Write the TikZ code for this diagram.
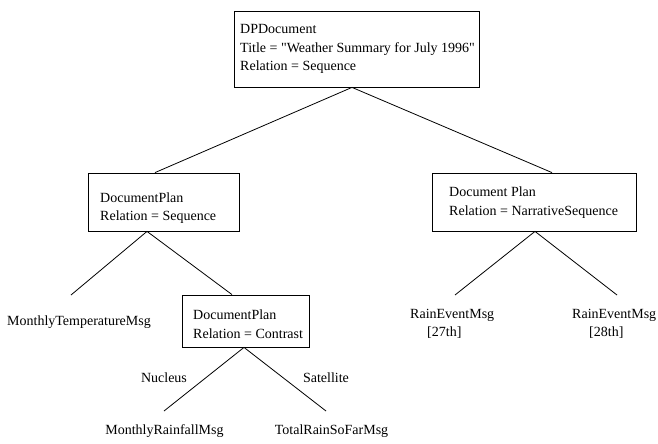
\documentclass[tikz,border=0pt]{standalone}
\usepackage{fontspec}
\setmainfont{Liberation Serif}[Ligatures=TeXOff]
\usetikzlibrary{calc}
\begin{document}
\begin{tikzpicture}[x=1pt,y=-1pt,
  box/.style={draw,line width=0.8pt,inner sep=0pt},
  txt/.style={font=\fontsize{14}{18.5}\selectfont,align=left,inner sep=0pt,anchor=west},
  leaf/.style={font=\fontsize{14}{18.5}\selectfont,inner sep=0pt},
  edge/.style={line width=0.8pt}]
\useasboundingbox (0,0) rectangle (658,444);
% boxes
\node[box,minimum width=245pt,minimum height=76pt] (dp) at (356.5,49) {};
\node[txt] (dpt) at (240,49) {DPDocument\\Title = "Weather Summary for July 1996"\\Relation = Sequence};
\node[box,minimum width=151pt,minimum height=58pt] (lp) at (163.5,202) {};
\node[txt] (lpt) at (100,208) {DocumentPlan\\Relation = Sequence};
\node[box,minimum width=204pt,minimum height=58pt] (rp) at (534,202) {};
\node[txt] (rpt) at (449,202.5) {Document Plan\\Relation = NarrativeSequence};
\node[box,minimum width=127pt,minimum height=52pt] (cp) at (245.5,321) {};
\node[txt] (cpt) at (193,324) {DocumentPlan\\Relation = Contrast};
% leaves
\node[leaf] (mt) at (79,322) {MonthlyTemperatureMsg};
\node[leaf] (rf) at (164.5,431) {MonthlyRainfallMsg};
\node[leaf] (tr) at (331.5,431) {TotalRainSoFarMsg};
\node[txt] (re1) at (410,324) {RainEventMsg\\\hspace*{17pt}[27th]};
\node[txt] (re2) at (572,324) {RainEventMsg\\\hspace*{17pt}[28th]};
\node[leaf] (nuc) at (164,378) {Nucleus};
\node[leaf] (sat) at (326,378) {Satellite};
% free ends
\coordinate (mtend) at (71,295);
\coordinate (re1end) at (455,295);
\coordinate (re2end) at (617,295);
\coordinate (rfend) at (164,411);
\coordinate (trend) at (326,411);
% connectors
\draw[edge] ([xshift=-8.5pt]lp.north) -- ([xshift=-4.5pt]dp.south) -- ([xshift=18pt]rp.north);
\draw[edge] (mtend) -- ([xshift=-16.5pt]lp.south) -- ([xshift=-13.5pt]cp.north);
\draw[edge] (re1end) -- ([xshift=1pt]rp.south) -- (re2end);
\draw[edge] (rfend) -- ([xshift=-1.5pt]cp.south) -- (trend);
\end{tikzpicture}
\end{document}
